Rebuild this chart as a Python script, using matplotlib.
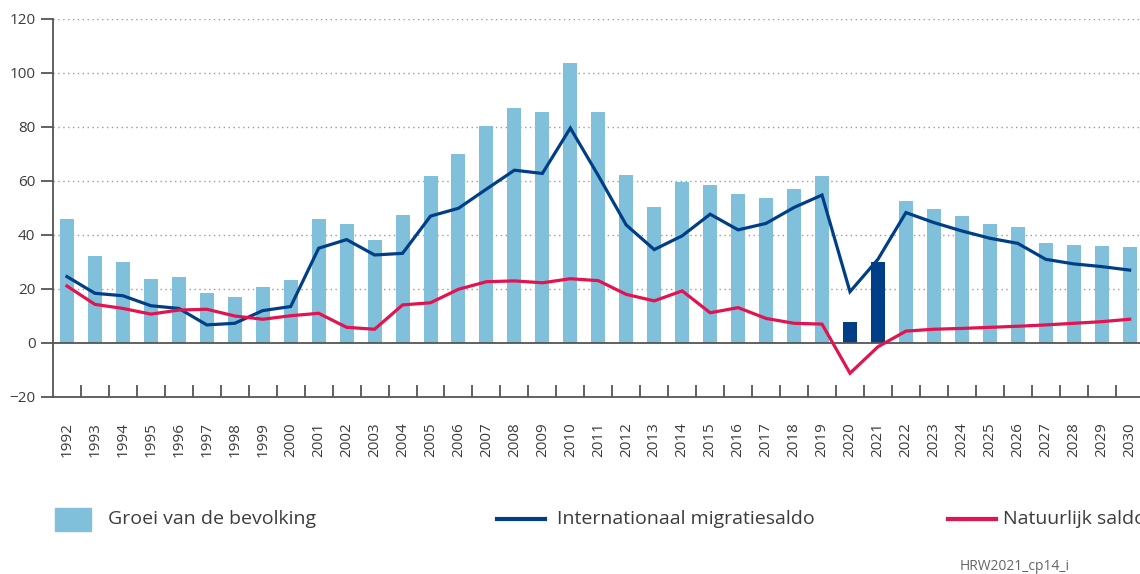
import matplotlib.pyplot as plt
from matplotlib.patches import Rectangle
from matplotlib.lines import Line2D
import numpy as np

plt.rcParams['font.family'] = ['Open Sans', 'DejaVu Sans']

years = list(range(1992, 2031))
groei = [46, 32.3, 30, 23.8, 24.6, 18.6, 17.2, 20.6, 23.3, 46,
         44, 38.1, 47.4, 62, 70, 80.2, 87.2, 85.6, 103.7, 85.6,
         62.2, 50.2, 59.5, 58.5, 55.2, 53.8, 57.2, 61.7, 7.9, 30,
         52.7, 49.7, 46.9, 44.1, 43, 37.2, 36.4, 35.9, 35.7]
migratie = [24.6, 18.4, 17.5, 13.8, 12.8, 6.7, 7.3, 12, 13.5, 35.1,
            38.3, 32.6, 33.2, 47, 49.9, 57, 64, 62.8, 79.6, 62,
            43.7, 34.6, 39.7, 47.7, 41.9, 44.3, 50.2, 54.8, 19, 31,
            48.3, 44.6, 41.5, 38.8, 36.9, 31, 29.3, 28.3, 27]
natuurlijk = [21.1, 14.3, 12.8, 10.7, 12.2, 12.5, 10, 8.8, 10.1, 11,
              5.8, 5.1, 14.1, 14.9, 19.9, 22.7, 23, 22.3, 23.8, 23.1,
              18, 15.6, 19.3, 11.2, 13.1, 9.1, 7.3, 7, -11.2, -1.4,
              4.4, 5.1, 5.4, 5.8, 6.2, 6.7, 7.3, 7.9, 8.8]
dark_years = [2020, 2021]

light = '#80c0da'
navy = '#003f87'
red = '#e2134f'
axcol = '#555555'
txt = '#3c3c3c'

fig = plt.figure(figsize=(11.4, 5.74), dpi=100)
ax = fig.add_axes([53 / 1140, 177 / 574, 1090.6 / 1140, 378 / 574])

x = np.arange(len(years))
colors = [navy if y in dark_years else light for y in years]
ax.bar(x, groei, width=0.5, color=colors, zorder=2)
ax.plot(x, migratie, color=navy, lw=2.3, zorder=3, solid_joinstyle='miter')
ax.plot(x, natuurlijk, color=red, lw=2.3, zorder=3, solid_joinstyle='miter')

ax.set_xlim(-0.5, len(years) - 0.5)
ax.set_ylim(-20, 120)
ax.set_yticks(range(-20, 121, 20))
ax.set_yticklabels([str(v).replace('-', '\u2212') for v in range(-20, 121, 20)])
for v in range(20, 121, 20):
    ax.axhline(v, color='#9a9a9a', lw=1, ls=(0, (1, 2.5)), zorder=1)
ax.axhline(0, color=axcol, lw=1.3, zorder=2.5)

for s in ['top', 'right']:
    ax.spines[s].set_visible(False)
for s in ['left', 'bottom']:
    ax.spines[s].set_color(axcol)
    ax.spines[s].set_linewidth(1.3)

ax.tick_params(axis='y', direction='out', length=8.6, width=1.3, color=axcol,
               labelsize=11, labelcolor=txt, pad=4)
ax.set_xticks(x)
ax.set_xticklabels([str(y) for y in years], rotation=90)
ax.tick_params(axis='x', which='major', length=0, labelsize=11, labelcolor=txt, pad=18)
ax.set_xticks(x[:-1] + 0.5, minor=True)
ax.tick_params(axis='x', which='minor', direction='in', length=8.6, width=1.3, color=axcol)

# legend
fig.add_artist(Rectangle((55 / 1140, 1 - 531 / 574), 36 / 1140, 23 / 574,
                         transform=fig.transFigure, color=light))
fig.text(108 / 1140, 1 - 519 / 574, 'Groei van de bevolking', fontsize=14,
         color=txt, va='center', ha='left')
fig.add_artist(Line2D([497 / 1140, 545 / 1140], [1 - 519 / 574] * 2,
                      transform=fig.transFigure, color=navy, lw=3))
fig.text(557 / 1140, 1 - 519 / 574, 'Internationaal migratiesaldo', fontsize=14,
         color=txt, va='center', ha='left')
fig.add_artist(Line2D([948 / 1140, 996 / 1140], [1 - 519 / 574] * 2,
                      transform=fig.transFigure, color=red, lw=3))
fig.text(1003 / 1140, 1 - 519 / 574, 'Natuurlijk saldo', fontsize=14,
         color=txt, va='center', ha='left')

fig.text(960 / 1140, 1 - 566 / 574, 'HRW2021_cp14_i', fontsize=10,
         color='#666666', va='center', ha='left')

fig.savefig('out.png', dpi=100)
